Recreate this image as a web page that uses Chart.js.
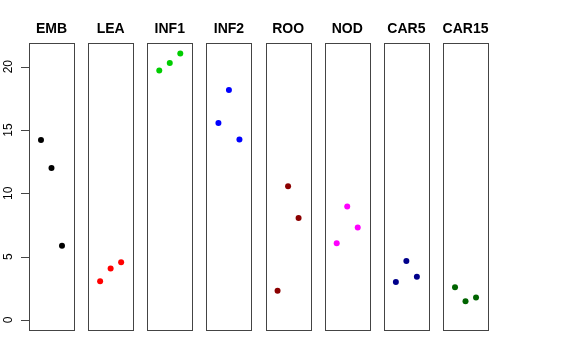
<!DOCTYPE html>
<html>
<head>
<meta charset="utf-8">
<script src="https://cdn.jsdelivr.net/npm/chart.js@4"></script>
<style>
  html, body { margin: 0; padding: 0; background: #fff; }
  #wrap { width: 576px; height: 360px; }
</style>
</head>
<body>
<div id="wrap"><canvas id="chart" width="576" height="360"></canvas></div>
<script>
// panels and their three values each
const categories = ['EMB', 'LEA', 'INF1', 'INF2', 'ROO', 'NOD', 'CAR5', 'CAR15'];
const emb   = [14.2, 12.0, 5.85];
const lea   = [3.05, 4.05, 4.55];
const inf1  = [19.7, 20.3, 21.05];
const inf2  = [15.55, 18.15, 14.25];
const roo   = [2.3, 10.55, 8.05];
const nod   = [6.05, 8.95, 7.3];
const car5  = [3.0, 4.65, 3.4];
const car15 = [2.58, 1.48, 1.76];
const seriesValues = [emb, lea, inf1, inf2, roo, nod, car5, car15];
const colors = ['#000000', '#ff0000', '#00cd00', '#0000ff', '#8b0000', '#ff00ff', '#00008b', '#006400'];
const yTicks = [0, 5, 10, 15, 20];

// each panel spans [-0.14, 4.14] in its own units, shifted by STRIDE
const STRIDE = 5.63;
const PAD = 0.14;
const FONT = '"Liberation Sans", Arial, sans-serif';

const datasets = seriesValues.map((vals, i) => ({
    label: categories[i],
    data: vals.map((v, j) => ({ x: i * STRIDE + j + 1, y: v })),
    backgroundColor: colors[i],
    borderWidth: 0,
    pointRadius: 3,
    pointHoverRadius: 3
}));

const panelPlugin = {
    id: 'panels',
    afterDraw(chart) {
        const ctx = chart.ctx;
        const xs = chart.scales.x;
        const ys = chart.scales.y;
        const area = chart.chartArea;
        ctx.save();
        ctx.strokeStyle = '#444';
        ctx.lineWidth = 1;
        ctx.fillStyle = '#000';
        ctx.textAlign = 'center';
        ctx.textBaseline = 'middle';
        ctx.font = 'bold 14px ' + FONT;
        const t = Math.round(area.top) + 0.5;
        const b = Math.round(area.bottom) + 0.5;
        categories.forEach((name, i) => {
            const l = Math.round(xs.getPixelForValue(i * STRIDE - PAD)) + 0.5;
            const r = Math.round(xs.getPixelForValue(i * STRIDE + 4 + PAD)) + 0.5;
            ctx.strokeRect(l, t, r - l, b - t);
            ctx.fillText(name, xs.getPixelForValue(i * STRIDE + 2), 29);
        });
        // left axis: ticks and rotated labels
        ctx.font = '12px ' + FONT;
        const left = Math.round(area.left);
        yTicks.forEach(v => {
            const y = Math.round(ys.getPixelForValue(v)) + 0.5;
            ctx.beginPath();
            ctx.moveTo(left - 8, y);
            ctx.lineTo(left, y);
            ctx.stroke();
            ctx.save();
            ctx.translate(9, ys.getPixelForValue(v));
            ctx.rotate(-Math.PI / 2);
            ctx.fillText(String(v), 0, 0);
            ctx.restore();
        });
        ctx.restore();
    }
};

document.addEventListener('DOMContentLoaded', () => {
    const ctx = document.getElementById('chart').getContext('2d');
    new Chart(ctx, {
        type: 'scatter',
        data: { datasets },
        options: {
            responsive: false,
            animation: false,
            layout: { padding: { top: 43, right: 88, bottom: 30, left: 29 } },
            plugins: { legend: { display: false }, tooltip: { enabled: false } },
            scales: {
                x: {
                    type: 'linear',
                    display: false,
                    min: -PAD,
                    max: 7 * STRIDE + 4 + PAD
                },
                y: {
                    type: 'linear',
                    display: false,
                    min: -0.8,
                    max: 21.87
                }
            }
        },
        plugins: [panelPlugin]
    });
});
</script>
</body>
</html>
